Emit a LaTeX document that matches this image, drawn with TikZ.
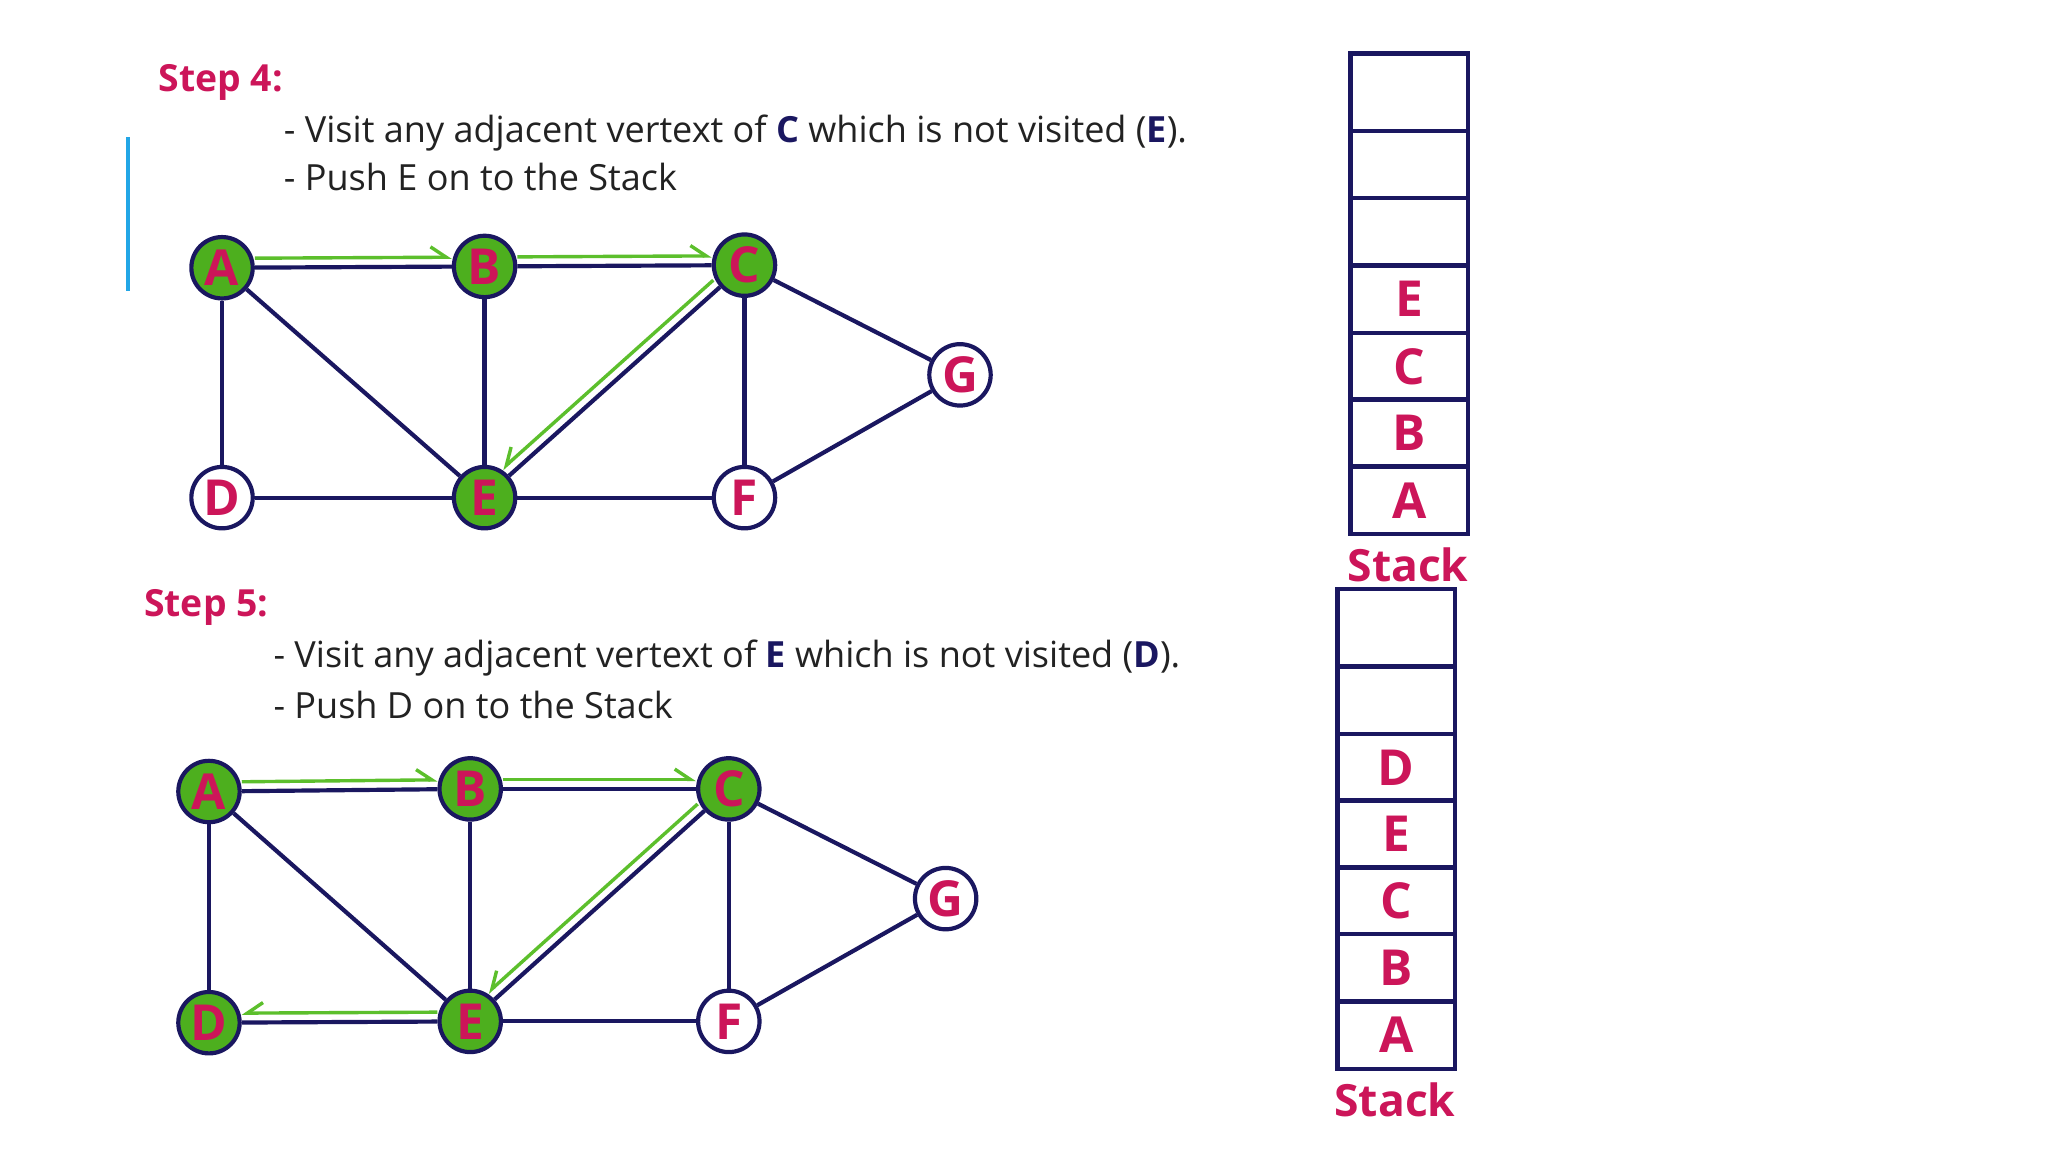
\documentclass[tikz,border=0pt]{standalone}
\usepackage{fontspec}
\setmainfont{Open Sans}
\usetikzlibrary{arrows.meta}
\definecolor{crim}{HTML}{CC1559}
\definecolor{navy}{HTML}{1A1760}
\definecolor{gfill}{HTML}{4DAF1E}
\definecolor{garr}{HTML}{5CBF2C}
\definecolor{sky}{HTML}{22A6E6}
\definecolor{body}{HTML}{222222}
\begin{document}
\begin{tikzpicture}[x=0.5pt,y=-0.5pt,
  vtx/.style={circle, draw=navy, line width=1.6pt, minimum size=23.5pt, inner sep=0pt,
    font=\bfseries\fontsize{19}{19}\selectfont, text=crim, fill=white},
  vis/.style={vtx, fill=gfill},
  edge/.style={draw=navy, line width=1.6pt},
  garrow/.style={draw=garr, line width=1.3pt},
  gtip/.style={-{Straight Barb[#1,length=6pt,width=8pt]}},
  cell/.style={draw=navy, line width=1.6pt, minimum width=45pt, minimum height=25.67pt,
    inner sep=0pt, font=\bfseries\fontsize{19}{19}\selectfont, text=crim},
  topcell/.style={cell, minimum height=29.5pt},
  steplbl/.style={anchor=base west, inner sep=0pt, text=crim, font=\bfseries\fontsize{14.3}{14.3}\selectfont},
  bodytxt/.style={anchor=base west, inner sep=0pt, text=body, font=\fontsize{13.8}{13.8}\selectfont},
  stacklbl/.style={anchor=base, inner sep=0pt, text=crim, font=\bfseries\fontsize{17}{17}\selectfont}
]
\useasboundingbox (0,0) rectangle (1568,882);
\fill[white] (0,0) rectangle (1568,882);

% blue side line
\coordinate (bl1) at (98,105);
\coordinate (bl2) at (98,223);
\draw[sky, line width=1.3pt] (bl1) -- (bl2);

% ---------- Step 4 texts
\node[steplbl] (s4) at (121,70) {Step 4:};
\node[bodytxt] (s4a) at (217,109) {- Visit any adjacent vertext of \textcolor{navy}{\bfseries C} which is not visited (\textcolor{navy}{\bfseries E}).};
\node[bodytxt] (s4b) at (217,146) {- Push E on to the Stack};

% ---------- Step 4 graph
\node[vis] (A1) at (170,205) {A};
\node[vis] (B1) at (371,204) {B};
\node[vis] (C1) at (570,203) {C};
\node[vtx] (G1) at (735,287) {G};
\node[vtx] (D1) at (170,381) {D};
\node[vis] (E1) at (371,381) {E};
\node[vtx] (F1) at (570,381) {F};
\draw[edge] (A1) -- (B1);
\draw[edge] (B1) -- (C1);
\draw[edge] (C1) -- (G1);
\draw[edge] (A1) -- (D1);
\draw[edge] (A1) -- (E1);
\draw[edge] (B1) -- (E1);
\draw[edge] (C1) -- (E1);
\draw[edge] (C1) -- (F1);
\draw[edge] (D1) -- (E1);
\draw[edge] (E1) -- (F1);
\draw[edge] (F1) -- (G1);
\draw[garrow, gtip=left, transform canvas={yshift=3.6pt}] (A1) -- (B1);
\draw[garrow, gtip=left, transform canvas={yshift=3.6pt}] (B1) -- (C1);
\draw[garrow, gtip=right, transform canvas={shift={(-2.6pt,2.6pt)}}] (C1) -- (E1);

% ---------- Step 4 stack
\node[topcell] (t1) at (1079,70.5) {};
\node[cell] (t2) at (1079,126) {};
\node[cell] (t3) at (1079,177.5) {};
\node[cell] (t4) at (1079,229) {E};
\node[cell] (t5) at (1079,280.5) {C};
\node[cell] (t6) at (1079,331.5) {B};
\node[cell] (t7) at (1079,383) {A};
\node[stacklbl] (st1) at (1078,445) {Stack};

% ---------- Step 5 texts
\node[steplbl] (s5) at (110,472) {Step 5:};
\node[bodytxt] (s5a) at (209,511) {- Visit any adjacent vertext of \textcolor{navy}{\bfseries E} which is not visited (\textcolor{navy}{\bfseries D}).};
\node[bodytxt] (s5b) at (209,550) {- Push D on to the Stack};

% ---------- Step 5 graph
\node[vis] (A2) at (160,606) {A};
\node[vis] (B2) at (360,604) {B};
\node[vis] (C2) at (558,604) {C};
\node[vtx] (G2) at (724,688) {G};
\node[vis] (D2) at (160,783) {D};
\node[vis] (E2) at (360,782) {E};
\node[vtx] (F2) at (558,782) {F};
\draw[edge] (A2) -- (B2);
\draw[edge] (B2) -- (C2);
\draw[edge] (C2) -- (G2);
\draw[edge] (A2) -- (D2);
\draw[edge] (A2) -- (E2);
\draw[edge] (B2) -- (E2);
\draw[edge] (C2) -- (E2);
\draw[edge] (C2) -- (F2);
\draw[edge] (D2) -- (E2);
\draw[edge] (E2) -- (F2);
\draw[edge] (F2) -- (G2);
\draw[garrow, gtip=left, transform canvas={yshift=3.6pt}] (A2) -- (B2);
\draw[garrow, gtip=left, transform canvas={yshift=3.6pt}] (B2) -- (C2);
\draw[garrow, gtip=right, transform canvas={shift={(-2.6pt,2.6pt)}}] (C2) -- (E2);
\draw[garrow, gtip=right, transform canvas={yshift=3.6pt}] (E2) -- (D2);

% ---------- Step 5 stack
\node[topcell] (b1) at (1069,480.5) {};
\node[cell] (b2) at (1069,536) {};
\node[cell] (b3) at (1069,587.5) {D};
\node[cell] (b4) at (1069,638.5) {E};
\node[cell] (b5) at (1069,689.5) {C};
\node[cell] (b6) at (1069,741) {B};
\node[cell] (b7) at (1069,792.5) {A};
\node[stacklbl] (st2) at (1068,855) {Stack};
\end{tikzpicture}
\end{document}
